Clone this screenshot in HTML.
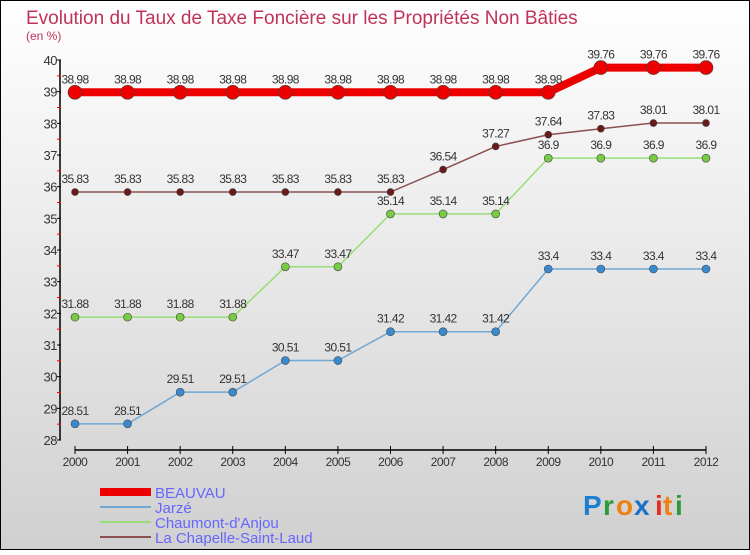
<!DOCTYPE html>
<html><head><meta charset="utf-8"><style>
html,body{margin:0;padding:0}
body{width:750px;height:550px;overflow:hidden;font-family:"Liberation Sans",sans-serif}
</style></head><body>
<svg id="chart" width="750" height="550" xmlns="http://www.w3.org/2000/svg">
<defs><linearGradient id="bg" x1="0" y1="0" x2="0" y2="1"><stop offset="0" stop-color="#ffffff"/><stop offset="1" stop-color="#d0d0d0"/></linearGradient></defs>
<rect x="0.5" y="0.5" width="749" height="549" fill="url(#bg)" stroke="#000"/>
<text x="26" y="24" font-size="19" fill="#c0325a">Evolution du Taux de Taxe Foncière sur les Propriétés Non Bâties</text>
<text x="26" y="40" font-size="12" fill="#c0325a">(en %)</text>
<g id="axes"></g><g id="series"></g><g id="legend"></g>
<g font-size="28" font-family="Liberation Sans,sans-serif" font-weight="bold">
<text x="583" y="515" fill="#1e7fd0">P</text><text x="603" y="515" fill="#2a9a3a">r</text><text x="616" y="515" fill="#f08010">o</text><text x="634" y="515" fill="#1e6fc8">x</text><text x="655" y="515" fill="#e03020">i</text><text x="663" y="515" fill="#f08010">t</text><text x="675" y="515" fill="#2a9a3a">i</text>
</g>
</svg>
<script>
const years=[2000,2001,2002,2003,2004,2005,2006,2007,2008,2009,2010,2011,2012];
const beauvau=[38.98,38.98,38.98,38.98,38.98,38.98,38.98,38.98,38.98,38.98,39.76,39.76,39.76];
const jarze=[28.51,28.51,29.51,29.51,30.51,30.51,31.42,31.42,31.42,33.4,33.4,33.4,33.4];
const chaumont=[31.88,31.88,31.88,31.88,33.47,33.47,35.14,35.14,35.14,36.9,36.9,36.9,36.9];
const chapelle=[35.83,35.83,35.83,35.83,35.83,35.83,35.83,36.54,37.27,37.64,37.83,38.01,38.01];
const yTicks=[28,29,30,31,32,33,34,35,36,37,38,39,40];
const NS="http://www.w3.org/2000/svg";
const xs=i=>75+i*(706-75)/(years.length-1);
const ys=v=>440-(v-28)*(380/12);
function mk(tag,attrs,parent){const e=document.createElementNS(NS,tag);for(const k in attrs)e.setAttribute(k,attrs[k]);parent.appendChild(e);return e;}
const axes=document.getElementById('axes');
let ya=mk('line',{x1:60,y1:60,x2:60,y2:440,stroke:'#000','stroke-width':1.5},axes);


yTicks.forEach(t=>{
 mk('line',{x1:57,x2:61,y1:ys(t),y2:ys(t),stroke:'#000'},axes);
 if(t<40){mk('line',{x1:57,x2:61,y1:ys(t+0.5),y2:ys(t+0.5),stroke:'#f00'},axes);}
 const tx=mk('text',{x:57,y:ys(t)+5,'font-size':13,fill:'#333','text-anchor':'end','letter-spacing':'-0.5'},axes);
 tx.textContent=t;
 
 
});
let xa=mk('line',{x1:75,y1:450,x2:706,y2:450,stroke:'#000','stroke-width':1.5},axes);


years.forEach((y,i)=>{
 mk('line',{x1:xs(i),x2:xs(i),y1:446,y2:454,stroke:'#000'},axes);
 const tx=mk('text',{x:xs(i),y:466,'font-size':12,fill:'#333','text-anchor':'middle','letter-spacing':'-0.5'},axes);
 tx.textContent=y;
 
 
});
const ser=document.getElementById('series');
function draw(vals,color,dot,w,r,name){
 const g=mk('g',{},ser);
 
 
 mk('polyline',{points:vals.map((v,i)=>xs(i)+','+ys(v)).join(' '),fill:'none',stroke:color,'stroke-width':w},g);
 vals.forEach((v,i)=>{
  const c=mk('circle',{cx:xs(i),cy:ys(v),r:r,fill:dot,stroke:'#444','stroke-width':0.6},g);
  
  
  const t=mk('text',{x:xs(i),y:ys(v)-9,'font-size':12,fill:'#333','text-anchor':'middle','letter-spacing':'-0.6'},g);
  t.textContent=v;
  
  
 });
}
draw(jarze,'#6fa8d6','#3a8ad0',1.5,4,'jarze-series');
draw(chaumont,'#99dd77','#77cc44',1.5,4,'chaumont-series');
draw(chapelle,'#8b5050','#6a1a1a',1.5,3.5,'chapelle-series');
draw(beauvau,'#ee0000','#ee0000',8,7,'beauvau-series');
const leg=document.getElementById('legend');
[['BEAUVAU','#ee0000',8],['Jarzé','#6fa8d6',2],['Chaumont-d\'Anjou','#99dd77',2],['La Chapelle-Saint-Laud','#8b5050',2]].forEach((d,i)=>{
 const g=mk('g',{},leg);
 
 
 const y=492+i*15;
 mk('line',{x1:100,x2:151,y1:y,y2:y,stroke:d[1],'stroke-width':d[2]},g);
 const t=mk('text',{x:155,y:y+6,'font-size':15,fill:'#6666ff'},g);
 t.textContent=d[0];
});
</script>
</body></html>
